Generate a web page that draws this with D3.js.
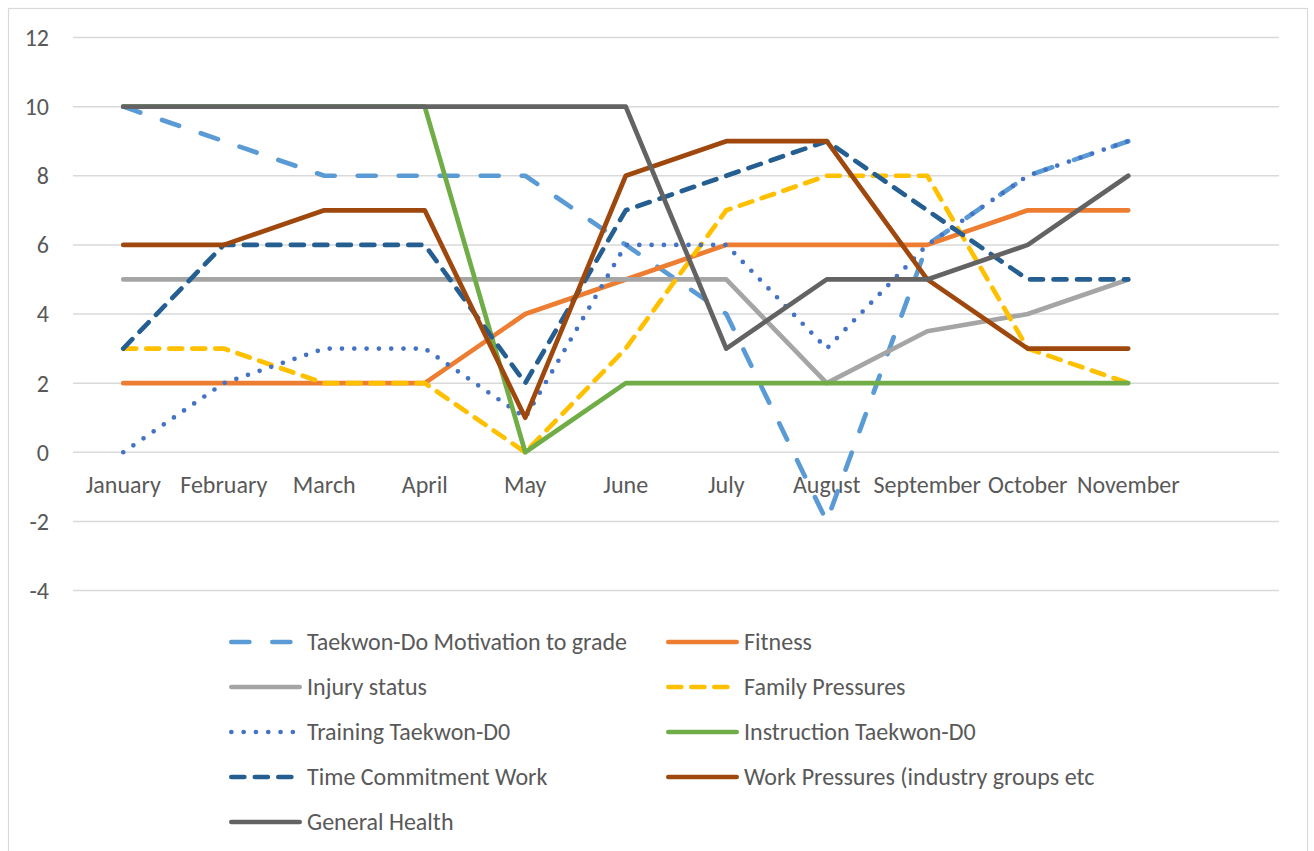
<!DOCTYPE html>
<html>
<head>
<meta charset="utf-8">
<script src="https://cdn.jsdelivr.net/npm/d3@7"></script>
<style>
  html, body { margin: 0; padding: 0; background: #fff; }
  svg { display: block; font-family: Carlito, Calibri, Lato, sans-serif; }
</style>
</head>
<body>
<div id="chart"></div>
<script>
// category labels (last slot is an empty category, as in the source sheet)
const months = ['January', 'February', 'March', 'April', 'May', 'June', 'July', 'August', 'September', 'October', 'November', '']
const yTicks = [-4, -2, 0, 2, 4, 6, 8, 10, 12]

const motivation = [10, 9, 8, 8, 8, 6, 4, -2, 6, 8, 9]
const fitness = [2, 2, 2, 2, 4, 5, 6, 6, 6, 7, 7]
const injury = [5, 5, 5, 5, 5, 5, 5, 2, 3.5, 4, 5]
const family = [3, 3, 2, 2, 0, 3, 7, 8, 8, 3, 2]
const training = [0, 2, 3, 3, 1, 6, 6, 3, 6, 8, 9]
const instruction = [10, 10, 10, 10, 0, 2, 2, 2, 2, 2, 2]
const timeWork = [3, 6, 6, 6, 2, 7, 8, 9, 7, 5, 5]
const workPressures = [6, 6, 7, 7, 1, 8, 9, 9, 5, 3, 3]
const health = [10, 10, 10, 10, 10, 10, 3, 5, 5, 6, 8]

const series = [
  { name: 'Taekwon-Do Motivation to grade', values: motivation, color: '#5B9BD5', dash: '18 23' },
  { name: 'Fitness', values: fitness, color: '#ED7D31', dash: null },
  { name: 'Injury status', values: injury, color: '#A5A5A5', dash: null },
  { name: 'Family Pressures', values: family, color: '#FFC000', dash: '13 10' },
  { name: 'Training Taekwon-D0', values: training, color: '#4472C4', dash: '0 12.3' },
  { name: 'Instruction Taekwon-D0', values: instruction, color: '#70AD47', dash: null },
  { name: 'Time Commitment Work', values: timeWork, color: '#255E91', dash: '13 10.5' },
  { name: 'Work Pressures (industry groups etc', values: workPressures, color: '#9E480E', dash: null },
  { name: 'General Health', values: health, color: '#636363', dash: null }
]

const width = 1314
const height = 851
const plot = { left: 73, right: 1279, top: 37.5, bottom: 590.5 }
const textColor = '#595959'
const gridColor = '#D9D9D9'
const fontSize = 24
const lineW = 4.7

const svg = d3.select('#chart').append('svg')
  .attr('width', width).attr('height', height)

// chart frame
svg.append('rect')
  .attr('x', 8.5).attr('y', 8.5)
  .attr('width', 1299).attr('height', 860)
  .attr('fill', '#fff').attr('stroke', gridColor).attr('stroke-width', 1.2)

const x = d3.scaleBand().domain(months.map((m, i) => i)).range([plot.left, plot.right])
const y = d3.scaleLinear().domain([-4, 12]).range([plot.bottom, plot.top])
const cx = i => x(i) + x.bandwidth() / 2

// horizontal gridlines
svg.append('g').selectAll('line').data(yTicks).join('line')
  .attr('x1', plot.left).attr('x2', plot.right)
  .attr('y1', d => y(d)).attr('y2', d => y(d))
  .attr('stroke', gridColor).attr('stroke-width', 1.5)

// y axis labels
svg.append('g').selectAll('text').data(yTicks).join('text')
  .attr('x', 49).attr('y', d => y(d))
  .attr('dy', '0.35em')
  .attr('text-anchor', 'end')
  .attr('fill', textColor)
  .style('font-size', `${fontSize}px`)
  .text(d => d)

// category labels sit under the zero line
svg.append('g').selectAll('text').data(months).join('text')
  .attr('x', (d, i) => cx(i)).attr('y', y(0) + 32)
  .attr('dy', '0.35em')
  .attr('text-anchor', 'middle')
  .attr('fill', textColor)
  .style('font-size', `${fontSize}px`)
  .text(d => d)

const line = d3.line().x((d, i) => cx(i)).y(d => y(d))

svg.append('g').selectAll('path').data(series).join('path')
  .attr('d', d => line(d.values))
  .attr('fill', 'none')
  .attr('stroke', d => d.color)
  .attr('stroke-width', lineW)
  .attr('stroke-linejoin', 'round')
  .attr('stroke-linecap', 'round')
  .attr('stroke-dasharray', d => d.dash)

// legend: two columns, filled row by row
const legendCols = [229, 666]
const legendRow0 = 642
const legendRowGap = 45
const legend = svg.append('g')
series.forEach((s, i) => {
  const col = i % 2
  const row = Math.floor(i / 2)
  const lx = legendCols[col]
  const ly = legendRow0 + row * legendRowGap
  const g = legend.append('g').attr('transform', `translate(${lx},${ly})`)
  g.append('path')
    .attr('d', `M${lineW / 2},0H${73 - lineW / 2}`)
    .attr('stroke', s.color)
    .attr('stroke-width', lineW)
    .attr('stroke-linecap', 'round')
    .attr('stroke-dasharray', s.dash)
  g.append('text')
    .attr('x', 78).attr('y', 0).attr('dy', '0.35em')
    .attr('fill', textColor)
    .style('font-size', `${fontSize}px`)
    .text(s.name)
})
</script>
</body>
</html>
